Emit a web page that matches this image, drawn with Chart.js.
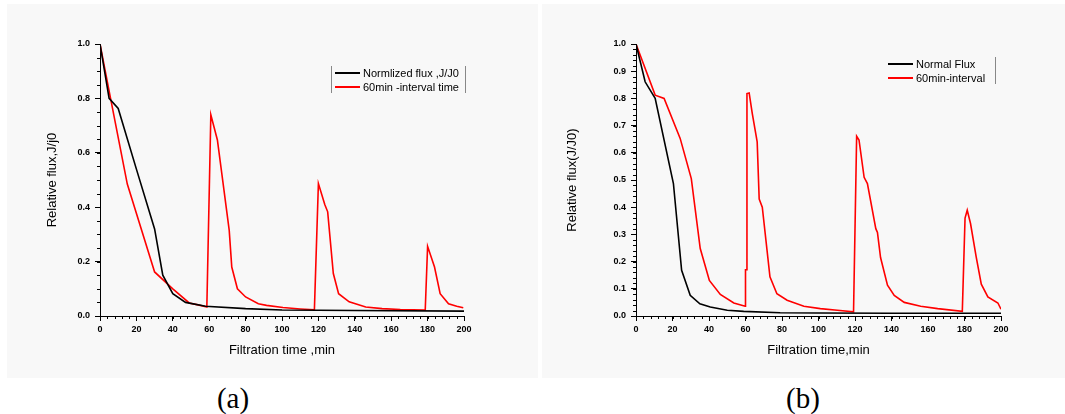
<!DOCTYPE html>
<html>
<head>
<meta charset="utf-8">
<script src="https://cdn.jsdelivr.net/npm/chart.js@4"></script>
<style>
  body { margin: 0; background: #fff; width: 1065px; height: 414px; position: relative; overflow: hidden; }
  .panel { position: absolute; background: #f8f8f8; }
  .box { position: absolute; }
  .cap { position: absolute; font-family: "Liberation Serif", "Times New Roman", serif; font-size: 29px; transform: translate(-50%, -50%); }
</style>
</head>
<body>
<div class="panel" style="left:7px;top:4px;width:531px;height:374px"></div>
<div class="panel" style="left:542px;top:4px;width:523px;height:374px"></div>
<div class="box" style="left:0;top:0;width:540px;height:380px"><canvas id="chartA"></canvas></div>
<div class="box" style="left:540px;top:0;width:525px;height:380px"><canvas id="chartB"></canvas></div>
<div class="cap" style="left:233px;top:398px">(a)</div>
<div class="cap" style="left:803px;top:398px">(b)</div>
<script>
// (a) normalized flux vs 60 min interval
var timeA1 = [0, 5, 10, 20, 30, 34.5, 40, 47, 58, 80, 100, 140, 200]
var fluxA1 = [1.0, 0.80, 0.763, 0.54, 0.32, 0.15, 0.082, 0.05, 0.036, 0.027, 0.022, 0.02, 0.018]
var timeA2 = [0, 5.8, 15, 30, 40, 49, 54.5, 58.7, 60.9, 64.5, 67, 71, 72.4, 75.5, 80, 87, 91.5, 100.5, 110, 117.8,
  120, 123.5, 125.1, 128.2, 131.1, 136.9, 146, 155, 165, 178.7, 180, 183.8, 186.9, 191.5, 196, 199.6]
var fluxA2 = [1.0, 0.80, 0.485, 0.162, 0.10, 0.048, 0.04, 0.033, 0.74, 0.647, 0.52, 0.315, 0.18, 0.10, 0.07, 0.045, 0.039, 0.031, 0.026, 0.023,
  0.487, 0.41, 0.383, 0.156, 0.082, 0.052, 0.033, 0.027, 0.024, 0.022, 0.256, 0.18, 0.082, 0.045, 0.036, 0.03]

// (b) normal flux vs 60 min interval
var timeB1 = [0, 5, 10.5, 20.5, 25, 29.7, 35, 40.7, 50, 59, 79, 100, 140, 200]
var fluxB1 = [1.0, 0.861, 0.80, 0.487, 0.168, 0.076, 0.045, 0.033, 0.021, 0.017, 0.012, 0.011, 0.01, 0.01]
var timeB2 = [0, 10.5, 15.4, 24.2, 30.3, 35.2, 40.2, 46.2, 53.6, 59.8, 60, 60.4, 60.8, 62, 63.7, 66.4, 67.5, 69.2, 73.4, 77.2,
  82.8, 92, 101, 110.3, 119.2, 120.9, 122.2, 125, 126.8, 131.4, 132.3, 134, 137.8, 141.5, 147, 156, 165.3, 178.8,
  180.3, 181.5, 183.3, 186.4, 189.2, 192.8, 198.3, 200]
var fluxB2 = [1.0, 0.812, 0.80, 0.653, 0.505, 0.248, 0.131, 0.079, 0.048, 0.036, 0.17, 0.17, 0.818, 0.82, 0.745, 0.64, 0.43, 0.40, 0.144, 0.082,
  0.058, 0.036, 0.027, 0.021, 0.015, 0.661, 0.647, 0.51, 0.487, 0.321, 0.307, 0.215, 0.113, 0.076, 0.05, 0.036, 0.027, 0.017,
  0.36, 0.389, 0.34, 0.217, 0.117, 0.07, 0.048, 0.025]

var xTicksStep = 20
var fontName = '"Liberation Sans", Arial, sans-serif'

function pts(xs, ys) {
  return xs.map(function (x, i) { return { x: x, y: ys[i] } })
}

// short minor ticks between the labelled ones
var minorTicks = {
  id: 'minorTicks',
  afterDraw: function (chart, args, opts) {
    var ctx = chart.ctx
    var xs = chart.scales.x, ys = chart.scales.y
    ctx.save()
    ctx.strokeStyle = '#000'
    ctx.lineWidth = 1
    ctx.beginPath()
    for (var v = 0; v <= 200; v += opts.x) {
      var px = Math.round(xs.getPixelForValue(v)) + 0.5
      ctx.moveTo(px, xs.top)
      ctx.lineTo(px, xs.top + 3)
    }
    for (var k = 0; k * opts.y <= 1.0001; k++) {
      var py = Math.round(ys.getPixelForValue(k * opts.y)) + 0.5
      ctx.moveTo(ys.right, py)
      ctx.lineTo(ys.right - 3, py)
    }
    ctx.stroke()
    ctx.restore()
  }
}

// Origin-style legend inside the plot
var legendBox = {
  id: 'legendBox',
  afterDraw: function (chart, args, opts) {
    var ctx = chart.ctx
    ctx.save()
    ctx.font = '11px ' + fontName
    ctx.textBaseline = 'middle'
    chart.data.datasets.forEach(function (ds, i) {
      var y = opts.y + i * 14
      ctx.strokeStyle = ds.borderColor
      ctx.lineWidth = 2
      ctx.beginPath()
      ctx.moveTo(opts.x, y)
      ctx.lineTo(opts.x + 25, y)
      ctx.stroke()
      ctx.fillStyle = '#000'
      ctx.fillText(ds.label, opts.x + 28, y + 1)
    })
    ctx.strokeStyle = '#888'
    ctx.lineWidth = 1
    ctx.beginPath()
    opts.bars.forEach(function (bx) {
      ctx.moveTo(bx + 0.5, opts.y - 7)
      ctx.lineTo(bx + 0.5, opts.y + 20)
    })
    ctx.stroke()
    ctx.restore()
  }
}

function makeChart(id, cfg) {
  return new Chart(document.getElementById(id), {
    type: 'line',
    data: {
      datasets: [
        { label: cfg.labels[0], data: cfg.d1, borderColor: '#000', borderWidth: 1.6, pointRadius: 0, tension: 0, fill: false },
        { label: cfg.labels[1], data: cfg.d2, borderColor: '#ff0000', borderWidth: 1.6, pointRadius: 0, tension: 0, fill: false },
      ],
    },
    options: {
      responsive: true,
      maintainAspectRatio: false,
      animation: false,
      layout: { padding: { left: 0, right: cfg.padRight, top: 44, bottom: 0 } },
      scales: {
        x: {
          type: 'linear',
          min: 0,
          max: 200,
          afterFit: function (scale) { scale.height = 64 },
          ticks: { stepSize: xTicksStep, padding: 3, color: '#000', font: { family: fontName, size: 9, weight: 'bold' } },
          grid: { drawOnChartArea: false, color: '#000', tickLength: 5 },
          border: { color: '#000', width: 1 },
          title: { display: true, text: cfg.xTitle, color: '#000', font: { family: fontName, size: 13 }, padding: { bottom: 22 } },
        },
        y: {
          min: 0,
          max: 1,
          afterFit: function (scale) { scale.width = cfg.axisLeft },
          ticks: {
            stepSize: cfg.yStep,
            padding: 5,
            color: '#000',
            font: { family: fontName, size: 9, weight: 'bold' },
            callback: function (v) { return v.toFixed(1) },
          },
          grid: { drawOnChartArea: false, color: '#000', tickLength: 5 },
          border: { color: '#000', width: 1 },
          title: { display: true, text: cfg.yTitle, color: '#000', font: { family: fontName, size: 13 }, padding: { top: cfg.yTitlePad } },
        },
      },
      plugins: {
        legend: { display: false },
        tooltip: { enabled: false },
        minorTicks: { x: 4, y: cfg.yMinor },
        legendBox: cfg.legend,
      },
    },
    plugins: [minorTicks, legendBox],
  })
}

window.onload = function () {
  makeChart('chartA', {
    labels: ['Normlized flux ,J/J0', '60min -interval time'],
    d1: pts(timeA1, fluxA1),
    d2: pts(timeA2, fluxA2),
    xTitle: 'Filtration time ,min',
    yTitle: 'Relative flux,J/j0',
    yStep: 0.2,
    yMinor: 0.05,
    axisLeft: 100,
    padRight: 76,
    yTitlePad: 45,
    legend: { x: 335, y: 73, bars: [331, 465] },
  })
  makeChart('chartB', {
    labels: ['Normal Flux', '60min-interval'],
    d1: pts(timeB1, fluxB1),
    d2: pts(timeB2, fluxB2),
    xTitle: 'Filtration time,min',
    yTitle: 'Relative flux(J/J0)',
    yStep: 0.1,
    yMinor: 0.02,
    axisLeft: 96,
    padRight: 64,
    yTitlePad: 25,
    legend: { x: 348, y: 64, bars: [455] },
  })
}
</script>
</body>
</html>
